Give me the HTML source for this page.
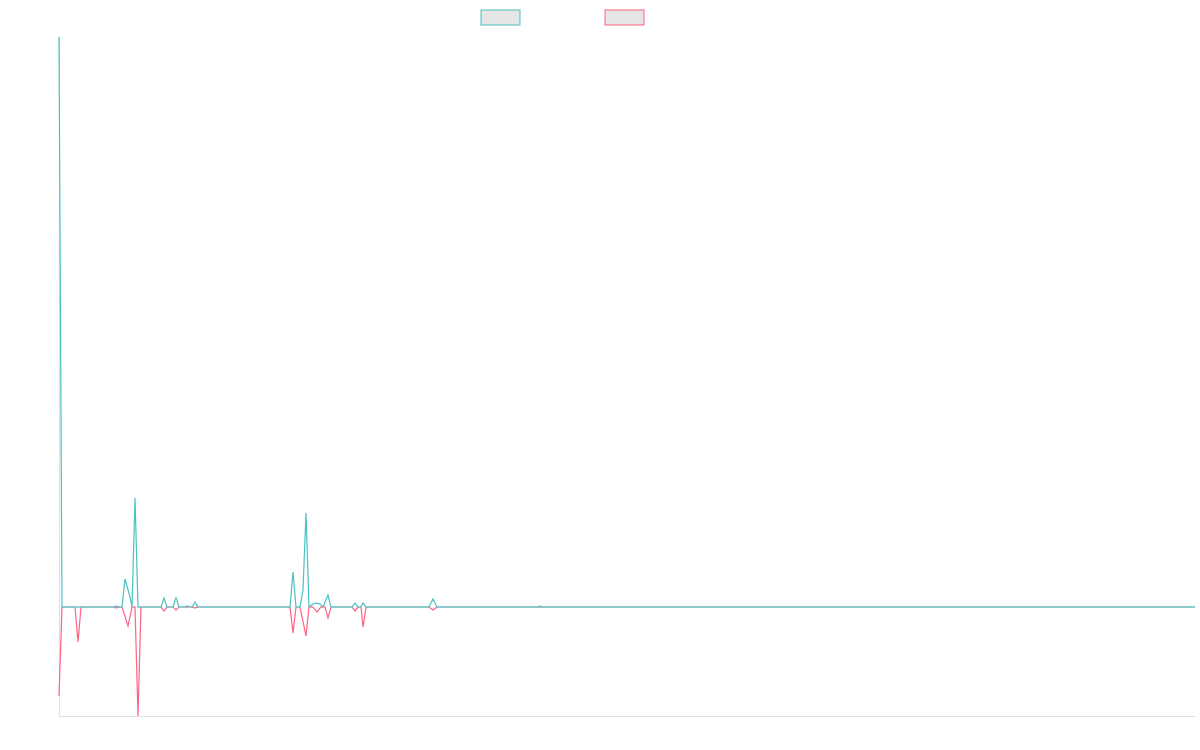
<!DOCTYPE html>
<html><head><meta charset="utf-8"><style>html,body{margin:0;background:#fff}svg{display:block}</style></head><body>
<svg width="1200" height="750" viewBox="0 0 1200 750" xmlns="http://www.w3.org/2000/svg">
<rect x="481" y="10" width="39" height="15" fill="#e6e6e6" stroke="#4bc0c0" stroke-width="1"/>
<rect x="605" y="10" width="39" height="15" fill="#e6e6e6" stroke="#ff6384" stroke-width="1"/>
<line x1="59.5" y1="37" x2="59.5" y2="716" stroke="#e0e0e0"/>
<line x1="59" y1="716.5" x2="1195" y2="716.5" stroke="#e0e0e0"/>
<polyline fill="none" stroke="#ff6384" stroke-width="1.2" points="59,696 62,607 75,607 78,642 81,607 114,607 116,608 119,607 122,607 128,626 132,607 135,607 138,716 141,607 161,607 164,611 167,607 173,607 176,610 179,607 192,607 195,608 198,607 290,607 293,633 296,607 300,607 306,636 309,607 313,607 317,612 321,607 325,607 328,618 331,607 352,607 355,611 358,607 361,607 363,627 366,607 429,607 433,610 437,607 1195,607"/>
<polyline fill="none" stroke="#4bc0c0" stroke-width="1.2" points="59,37 62,607 114,607 116,606 119,607 122,607 125,579 130,597 132,607 135,498 138,607 161,607 164,598 167,607 173,607 176,598 179,607 185,607 187,606 190,607 192,607 195,602 198,607 290,607 293,572 296,607 300,607 303,590 306,513 309,607 313,604 316,603 320,604 323,607 328,595 331,607 336,607 352,607 355,603 358,607 361,607 363,603 366,607 429,607 433,599 437,607 538,607 540,606 542,607 1195,607"/>
</svg>
</body></html>
